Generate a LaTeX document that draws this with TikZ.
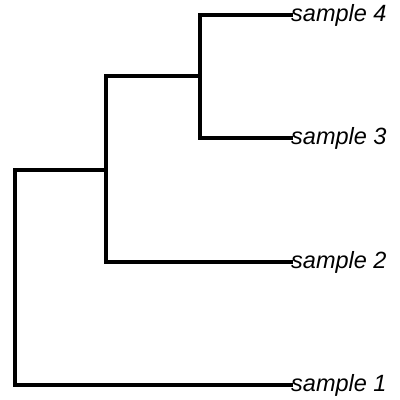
\documentclass[tikz,border=0pt]{standalone}
\usepackage{fontspec}
\setmainfont{Liberation Sans}
\begin{document}
\begin{tikzpicture}[x=1pt,y=-1pt,
  branch/.style={line width=3.3pt,line cap=rect,line join=miter},
  leaf/.style={anchor=west,inner sep=0pt,font=\fontsize{23.5}{28}\selectfont\itshape}]
\useasboundingbox (0,0) rectangle (400,400);
% leaf labels
\node[leaf] (s4) at (291,15) {sample 4};
\node[leaf] (s3) at (291,138) {sample 3};
\node[leaf] (s2) at (291,262) {sample 2};
\node[leaf] (s1) at (291,385) {sample 1};
% internal nodes
\coordinate (n34) at (200,76);
\coordinate (n234) at (106,170);
\coordinate (root) at (15,278);
% branches
\draw[branch] (s4.west) -| (n34) |- (s3.west);
\draw[branch] (n34) -| (n234) |- (s2.west);
\draw[branch] (n234) -| (root) |- (s1.west);
\end{tikzpicture}
\end{document}
